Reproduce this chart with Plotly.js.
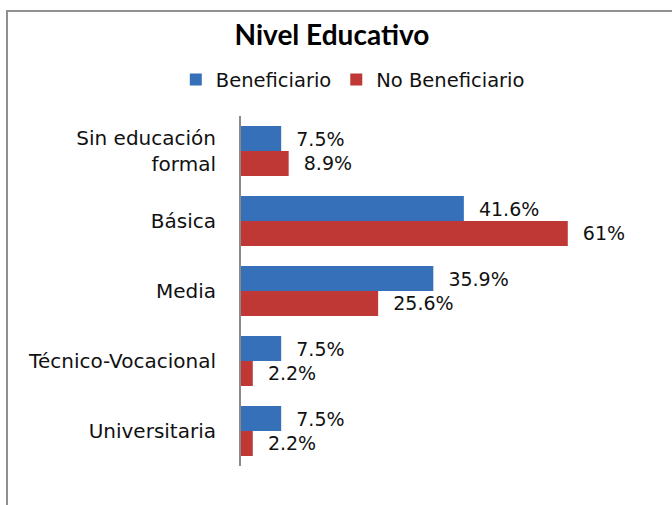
<!DOCTYPE html>
<html>
<head>
<meta charset="utf-8">
<script src="https://cdn.plot.ly/plotly-3.0.1.min.js"></script>
<style>
  html, body { margin: 0; padding: 0; overflow: hidden; background: #fff; }
  #wrap { position: relative; width: 672px; height: 505px; }
  #chart { width: 672px; height: 505px; }
  #frame { position: absolute; left: 6px; top: 10px; width: 700px; height: 520px;
           border-left: 2px solid #909090; border-top: 2px solid #909090; pointer-events: none; }
</style>
</head>
<body>
<div id="wrap">
  <div id="chart"></div>
  <div id="frame"></div>
</div>
<script>
const categories = ["Sin educación<br>formal", "Básica", "Media", "Técnico-Vocacional", "Universitaria"];
const beneficiario = [7.5, 41.6, 35.9, 7.5, 7.5];
const noBeneficiario = [8.9, 61, 25.6, 2.2, 2.2];
const seriesNames = ["Beneficiario", "No Beneficiario"];
const chartTitle = "Nivel Educativo";

const FONT = "DejaVu Sans, Verdana, sans-serif";
const pad = "\u00a0\u00a0";

function barTrace(name, values, color) {
  return {
    type: "bar",
    orientation: "h",
    name: name,
    x: values,
    y: categories,
    marker: { color: color, line: { width: 0 } },
    text: values.map(v => pad + v + "%"),
    textposition: "outside",
    textfont: { family: FONT, size: 19, color: "#111" },
    constraintext: "none",
    cliponaxis: false,
    hoverinfo: "skip"
  };
}

const data = [
  barTrace(seriesNames[0], beneficiario, "#3670b8"),
  barTrace(seriesNames[1], noBeneficiario, "#c03836")
];

const layout = {
  width: 672,
  height: 505,
  margin: { l: 241, r: 56, t: 116, b: 39 },
  paper_bgcolor: "#fff",
  plot_bgcolor: "#fff",
  font: { family: FONT, size: 20, color: "#111" },
  title: {
    text: "<b>" + chartTitle + "</b>",
    font: { family: "Lato, DejaVu Sans, sans-serif", size: 28, color: "#000" },
    xref: "container", yref: "container",
    x: 0.494, xanchor: "center",
    y: 0.93, yanchor: "middle"
  },
  showlegend: true,
  legend: {
    orientation: "h",
    xref: "container", yref: "container",
    x: 0.525, xanchor: "center",
    y: 0.842, yanchor: "middle",
    font: { family: FONT, size: 19.5, color: "#111" },
    traceorder: "normal",
    itemwidth: 30,
    itemclick: false, itemdoubleclick: false
  },
  barmode: "group",
  bargap: 0.286,
  bargroupgap: 0,
  xaxis: { visible: false, range: [0, 70], fixedrange: true },
  yaxis: {
    type: "category",
    autorange: "reversed",
    showline: true,
    linecolor: "#8a8a8a",
    linewidth: 2,
    showgrid: false,
    zeroline: false,
    ticks: "",
    ticklabelstandoff: 19,
    tickfont: { family: FONT, size: 20, color: "#111" },
    fixedrange: true
  },
  hovermode: false
};

Plotly.newPlot("chart", data, layout, { displayModeBar: false, staticPlot: true });
</script>
</body>
</html>
